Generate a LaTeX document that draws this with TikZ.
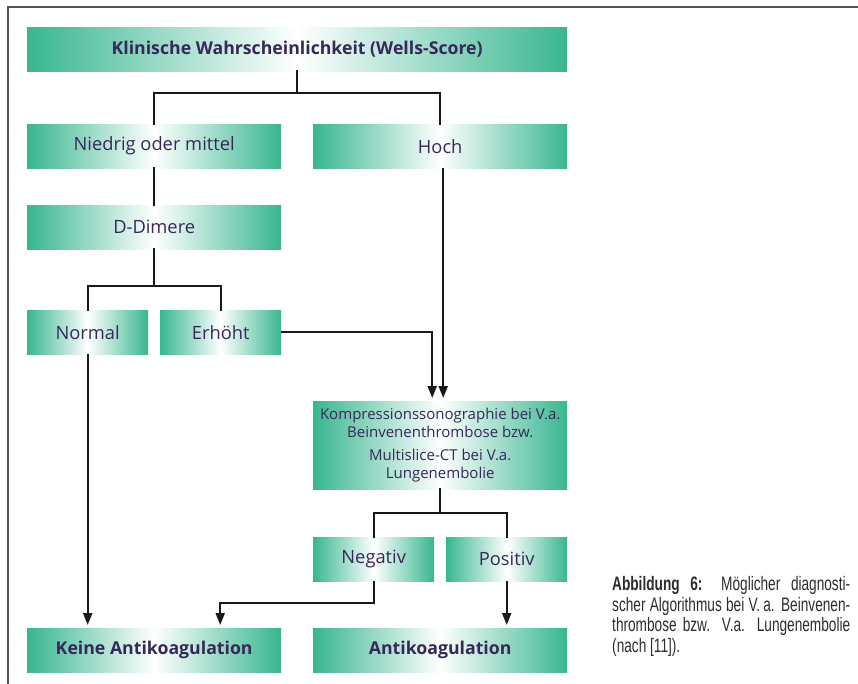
\documentclass[tikz,border=0pt]{standalone}
\usepackage{fontspec}
\setmainfont{Open Sans}
\newfontfamily\capfont[FakeStretch=0.70]{Liberation Sans}
\usetikzlibrary{arrows.meta}
\definecolor{boxgreen}{RGB}{56,182,144}
\definecolor{txt}{RGB}{55,40,90}
\definecolor{framegray}{RGB}{85,85,85}
\definecolor{capgray}{RGB}{45,45,45}
\tikzset{
  flowbox/.style={draw=none, minimum height=44pt, inner sep=0pt, anchor=north west,
    left color=boxgreen, right color=boxgreen, middle color=white,
    text=txt, font=\fontsize{18.3}{21}\selectfont},
  boldbox/.style={flowbox, font=\bfseries\fontsize{17.7}{21}\selectfont},
  link/.style={line width=2pt, draw=black!90, line cap=rect},
  arr/.style={line width=2pt, draw=black!90, -{Triangle[length=12pt,width=9pt]}, shorten >=3pt},
}
\begin{document}
\begin{tikzpicture}[x=1pt,y=-1pt]
\useasboundingbox (0,0) rectangle (858,684);
\draw[framegray, line width=2pt] (8,684) -- (8,7) -- (858,7);

\node[boldbox, minimum width=540pt] (b1) at (27,27) {Klinische Wahrscheinlichkeit (Wells-Score)};
\node[flowbox, minimum width=254pt] (niedrig) at (27,124) {Niedrig oder mittel};
\node[flowbox, minimum width=254pt] (hoch) at (313,124) {Hoch};
\node[flowbox, minimum width=254pt] (dd) at (27,205) {D-Dimere};
\node[flowbox, minimum width=121pt] (normal) at (27,310) {Normal};
\node[flowbox, minimum width=121pt] (erh) at (160,310) {Erhöht};
\node[flowbox, minimum width=254pt, minimum height=88pt, align=center, font=\fontsize{15}{18}\selectfont] (komp) at (313,401)
  {Kompressionssonographie bei V.a.\\ Beinvenenthrombose bzw.\\[5pt] Multislice-CT bei V.a.\\ Lungenembolie};
\node[flowbox, minimum width=121pt] (neg) at (313,537) {Negativ};
\node[flowbox, minimum width=121pt] (pos) at (446,537) {Positiv};
\node[boldbox, minimum width=254pt] (keine) at (27,628) {Keine Antikoagulation};
\node[boldbox, minimum width=254pt] (anti) at (313,628) {Antikoagulation};

\node[anchor=north west, inner sep=0pt, text=capgray, align=left,
      font=\capfont\fontsize{19.5}{20.7}\selectfont] (cap) at (612,576)
  {\makebox[238pt][s]{\textbf{Abbildung 6:} Möglicher diagnosti-}\\
   \makebox[238pt][s]{scher Algorithmus bei V.\,a. Beinvenen-}\\
   \makebox[238pt][s]{thrombose bzw. V.a. Lungenembolie}\\
   (nach [11]).};

\draw[link] (b1.south) -- ++(0,22) -| (niedrig.north);
\draw[link] (b1.south) -- ++(0,22) -| (hoch.north);
\draw[link] (niedrig.south) -- (dd.north);
\draw[link] (dd.south) -- ++(0,37) -| (normal.north);
\draw[link] (dd.south) -- ++(0,37) -| (erh.north);
\draw[arr] (erh.east) -| ([xshift=-8pt]komp.north);
\draw[arr] ([xshift=3pt]hoch.south) -- ([xshift=3pt]komp.north);
\draw[link] (komp.south) -- ++(0,24) -| (neg.north);
\draw[link] (komp.south) -- ++(0,24) -| (pos.north);
\draw[arr] (neg.south) -- ++(0,22) -| ([xshift=66pt]keine.north);
\draw[arr] (pos.south) -- (pos.south |- anti.north);
\draw[arr] (normal.south) -- (normal.south |- keine.north);
\end{tikzpicture}
\end{document}
